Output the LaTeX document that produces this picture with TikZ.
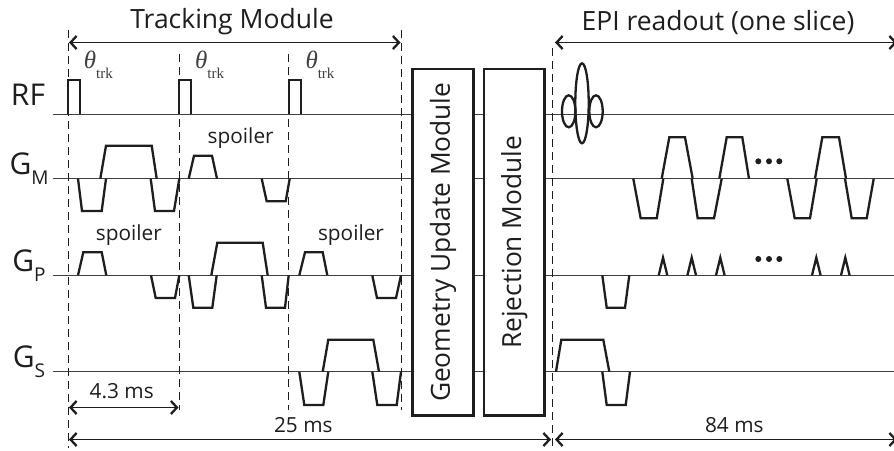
\documentclass[tikz,border=0pt]{standalone}
\usepackage{fontspec}
\setmainfont{Open Sans}
\newfontfamily\trkfont{Liberation Serif}
\usetikzlibrary{arrows.meta}
\definecolor{ink}{HTML}{1E1E1E}
\tikzset{
    baseline/.style={draw=ink!85, line width=1pt},
    wave/.style={draw=ink, line width=2.3pt, line join=miter},
    timing/.style={draw=ink, line width=1pt, dash pattern=on 7.5pt off 5.5pt},
    span/.style={draw=ink, line width=1.2pt, {Straight Barb[length=6pt,width=13pt,line width=2.3pt]}-{Straight Barb[length=6pt,width=13pt,line width=2.3pt]}},
    modulebox/.style={draw=ink, line width=2.5pt, fill=white},
    title/.style={text=ink, font=\fontsize{26.5}{27}\selectfont},
    rowname/.style={text=ink, font=\fontsize{30}{30}\selectfont},
    note/.style={text=ink, font=\fontsize{20.8}{21}\selectfont},
    modname/.style={text=ink, rotate=90, font=\fontsize{26.3}{27}\selectfont}
}
\newcommand{\lobe}[6]{\draw[wave] (#1,#5) -- (#2,#6) -- (#3,#6) -- (#4,#5);}
\newcommand{\rowtext}[2]{#1\raisebox{-0.33em}{\fontsize{19}{19}\selectfont #2}}
\newcommand{\flip}{\trkfont{\fontsize{25}{25}\selectfont\itshape θ}\raisebox{-0.45em}{\fontsize{15}{15}\selectfont trk}}
\begin{document}
\begin{tikzpicture}[x=1pt,y=-1pt]
    \useasboundingbox (0,0) rectangle (894,450);
    \fill[white] (0,0) rectangle (894,450);
    \foreach \rowy in {114.5,178.5,275.5,371.5}
        \draw[baseline] (52.7,\rowy) -- (894,\rowy);
    \coordinate (trkstart) at (69,42.5);
    \coordinate (trkend) at (400.5,42.5);
    \coordinate (epistart) at (555,42.5);
    \coordinate (epiend) at (897,42.5);
    \coordinate (cyclestart) at (69,407.5);
    \coordinate (cycleend) at (178.5,407.5);
    \coordinate (allstart) at (69,439.5);
    \coordinate (allend) at (551,439.5);
    \coordinate (readstart) at (555,439.5);
    \coordinate (readend) at (897,439.5);
    \draw[timing] (68.5,30) -- (68.5,448);
    \draw[timing] (179.5,54) -- (179.5,410);
    \draw[timing] (288.5,54) -- (288.5,410);
    \draw[timing] (401.5,30) -- (401.5,410);
    \draw[timing] (552.5,48) -- (552.5,448);
    \draw[span] (trkstart) -- (trkend);
    \draw[span] (epistart) -- (epiend);
    \draw[span] (cyclestart) -- (cycleend);
    \draw[span] (allstart) -- (allend);
    \draw[span] (readstart) -- (readend);
    \node[title] (tracking) at (232,22) {Tracking Module};
    \node[title] (readout) at (718,23) {EPI readout (one slice)};
    \node[rowname] (rf) at (28,95) {RF};
    \node[rowname] (gm) at (29,169) {\rowtext{G}{M}};
    \node[rowname] (gp) at (29,266) {\rowtext{G}{P}};
    \node[rowname] (gs) at (29,362) {\rowtext{G}{S}};
    \foreach \pulsex/\name in {67.7/a,179/b,289.3/c} {
        \draw[wave] (\pulsex,114) -- (\pulsex,80.3) -- ++(12,0) -- ++(0,33.7);
        \node[note, anchor=west, text=ink!85, inner sep=0pt] (flip\name) at (\pulsex+16,65) {\flip};
    }
    \lobe{78}{82}{101.7}{106}{178.7}{211}
    \lobe{100.3}{106}{151.7}{156.7}{178.7}{145.7}
    \lobe{150.7}{155}{174}{179.3}{178.7}{211}
    \lobe{188.7}{194}{212}{217}{178.7}{155.7}
    \lobe{261.7}{266.7}{285.7}{289.7}{178.7}{201.3}
    \lobe{78}{83.3}{101.7}{106.3}{275.3}{252.3}
    \lobe{151}{155.7}{175}{179.3}{275.3}{298}
    \lobe{188.7}{193.3}{212.3}{216.7}{275.3}{307.7}
    \lobe{211.3}{217.3}{262.7}{267.7}{275.3}{242.7}
    \lobe{261.7}{266}{285}{288.7}{275.3}{307.7}
    \lobe{299.3}{305}{322.7}{327.3}{275.3}{252.3}
    \lobe{372.3}{377}{396}{401}{275.3}{298}
    \lobe{299.3}{304.3}{323.3}{328.3}{371.7}{405}
    \lobe{322.7}{328.3}{373.3}{379}{371.7}{339.7}
    \lobe{372.3}{377.3}{396.7}{401}{371.7}{405}
    \node[note] (spoilerm) at (240.7,138) {spoiler};
    \node[note] (spoilerpa) at (128.8,235) {spoiler};
    \node[note] (spoilerpb) at (351,235) {spoiler};
    \node[note] (cycletime) at (121.7,391) {4.3 ms};
    \node[note] (alltime) at (303.3,425) {25 ms};
    \node[note] (readtime) at (734.3,425) {84 ms};
    \node[modulebox, minimum width=60.6pt, minimum height=346.7pt] (geometry) at (443,242.3) {};
    \node[modulebox, minimum width=60.3pt, minimum height=346.7pt] (rejection) at (514.2,242.3) {};
    \node[modname] at (geometry) {Geometry Update Module};
    \node[modname] at (rejection) {Rejection Module};
    \draw[wave] (582,103.3) ellipse (6.7 and 40);
    \draw[wave] (568.7,111.3) ellipse (6.7 and 16);
    \draw[wave] (596,111.3) ellipse (6.7 and 16);
    \lobe{633.3}{640.7}{656.7}{663.3}{178.7}{218.3}
    \lobe{661.7}{669.3}{685}{692.7}{178.7}{137.3}
    \lobe{691.7}{697.7}{714}{721.7}{178.7}{218.3}
    \lobe{719.3}{726.7}{742.3}{749}{178.7}{137.3}
    \lobe{787.3}{794.7}{810}{816.7}{178.7}{218.3}
    \lobe{815}{822.3}{839}{846}{178.7}{137.3}
    \lobe{845}{851.7}{866.7}{873.7}{178.7}{218.3}
    \lobe{602.3}{606.7}{625}{629.3}{275.3}{307.7}
    \foreach \blipx in {663,691.7,720.3,816.3,845.3}
        \draw[wave, line width=2.3pt] (\blipx-4.3,275.3) -- (\blipx,257.7) -- (\blipx+4.3,275.3);
    \foreach \doty in {161.3,259}
        \foreach \dotx in {758.3,769,779.3}
            \fill[ink] (\dotx,\doty) circle (3pt);
    \lobe{556}{561.3}{603.3}{609.3}{371.7}{339.7}
    \lobe{602.3}{606.7}{625.7}{630}{371.7}{405}
\end{tikzpicture}
\end{document}
